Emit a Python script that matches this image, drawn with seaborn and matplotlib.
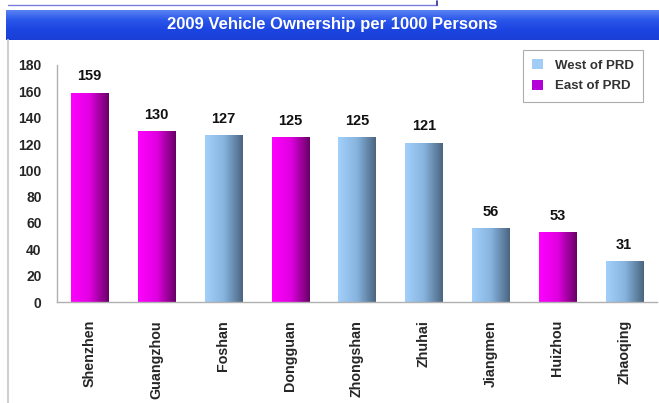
import numpy as np
import pandas as pd
import matplotlib
matplotlib.use("Agg")
import matplotlib.pyplot as plt
import seaborn as sns
from matplotlib.patches import Patch
from matplotlib.colors import LinearSegmentedColormap

cities = ["Shenzhen", "Guangzhou", "Foshan", "Dongguan", "Zhongshan",
          "Zhuhai", "Jiangmen", "Huizhou", "Zhaoqing"]
values = [159, 130, 127, 125, 125, 121, 56, 53, 31]
regions = ["East of PRD", "East of PRD", "West of PRD", "East of PRD", "West of PRD",
           "West of PRD", "West of PRD", "East of PRD", "West of PRD"]
yticks = [0, 20, 40, 60, 80, 100, 120, 140, 160, 180]
title = "2009 Vehicle Ownership per 1000 Persons"

df = pd.DataFrame({"city": cities, "value": values, "region": regions})

sns.set_style("white")
plt.rcParams["font.family"] = ["Liberation Sans", "DejaVu Sans"]

fig = plt.figure(figsize=(6.59, 4.03), dpi=100)
fig.patch.set_facecolor("white")

# header link remnant + title bar
fig.add_artist(plt.Line2D([8/659, 437/659], [1-5/403, 1-5/403], color="#7c7ce0", lw=1.0))
fig.add_artist(plt.Line2D([437/659, 437/659], [1-5/403, 1-1/403], color="#2a2a9a", lw=1.2))
tb = fig.add_axes([6/659, 1-40/403, 653/659, 30/403])
grad = np.linspace(0, 1, 100).reshape(-1, 1)
tb.imshow(grad, aspect="auto", extent=[0, 1, 0, 1],
          cmap=LinearSegmentedColormap.from_list("tb", ["#5a82f2", "#2a56ea", "#1c44e0", "#1a3fd6"]),
          origin="upper")
tb.set_xlim(0, 1); tb.set_ylim(0, 1); tb.axis("off")
tb.text(0.5, 0.5, title, color="white", ha="center", va="center",
        fontsize=12, fontweight="bold")

# left border
fig.add_artist(plt.Line2D([8/659, 8/659], [0, 1-40/403], color="#d0d0d0", lw=1.5))

ax = fig.add_axes([57/659, 1-302/403, 600/659, 237/403])
sns.barplot(data=df, x="city", y="value", order=cities, color="white",
            width=0.555, ax=ax, linewidth=0)

cmaps = {
    "West of PRD": LinearSegmentedColormap.from_list("w", ["#a3d0fb", "#86b4df", "#4b6580"]),
    "East of PRD": LinearSegmentedColormap.from_list("e", ["#ff00ff", "#e000e0", "#680066"]),
}
hgrad = np.linspace(0, 1, 100).reshape(1, -1)
for p in list(ax.patches):
    cx = p.get_x() + p.get_width() / 2
    i = int(round(cx))
    x0, w, h = p.get_x(), p.get_width(), p.get_height()
    p.set_facecolor("none")
    im = ax.imshow(hgrad, aspect="auto", extent=[x0, x0 + w, 0, h],
                   cmap=cmaps[regions[i]], zorder=2)
    im.set_clip_path(p)
    ax.text(cx, h + 7, str(values[i]), ha="center", va="bottom",
            fontsize=10.5, fontweight="bold", color="#111111")

ax.set_xlim(-0.487, 8.49)
ax.set_ylim(0, 180)
ax.set_yticks(yticks)
ax.set_yticklabels([str(t) for t in yticks], fontsize=10, fontweight="bold")
ax.set_xticks(range(len(cities)))
ax.set_xticklabels(cities, rotation=90, fontsize=10.3, fontweight="bold", va="top")
ax.tick_params(axis="x", pad=13, length=0)
ax.tick_params(axis="y", pad=11, length=0)
ax.set_xlabel(""); ax.set_ylabel("")
for s in ["top", "right"]:
    ax.spines[s].set_visible(False)
for s in ["left", "bottom"]:
    ax.spines[s].set_color("#b0b0b0")
    ax.spines[s].set_linewidth(1)
ax.set_facecolor("none")

handles = [Patch(facecolor="#a0ccf5", edgecolor="none", label="West of PRD"),
           Patch(facecolor="#b400d8", edgecolor="none", label="East of PRD")]
leg = fig.legend(handles=handles, loc="upper left",
                 bbox_to_anchor=(523/659, 1-50/403), borderaxespad=0,
                 frameon=True, fancybox=False,
                 prop={"size": 9.5, "weight": "bold"}, handlelength=0.8, handleheight=0.8,
                 borderpad=0.7, labelspacing=0.6, handletextpad=0.9)
leg.get_frame().set_edgecolor("#999999")
leg.get_frame().set_linewidth(0.8)
for t in leg.get_texts():
    t.set_color("#333333")

fig.savefig("out.png", dpi=100)
